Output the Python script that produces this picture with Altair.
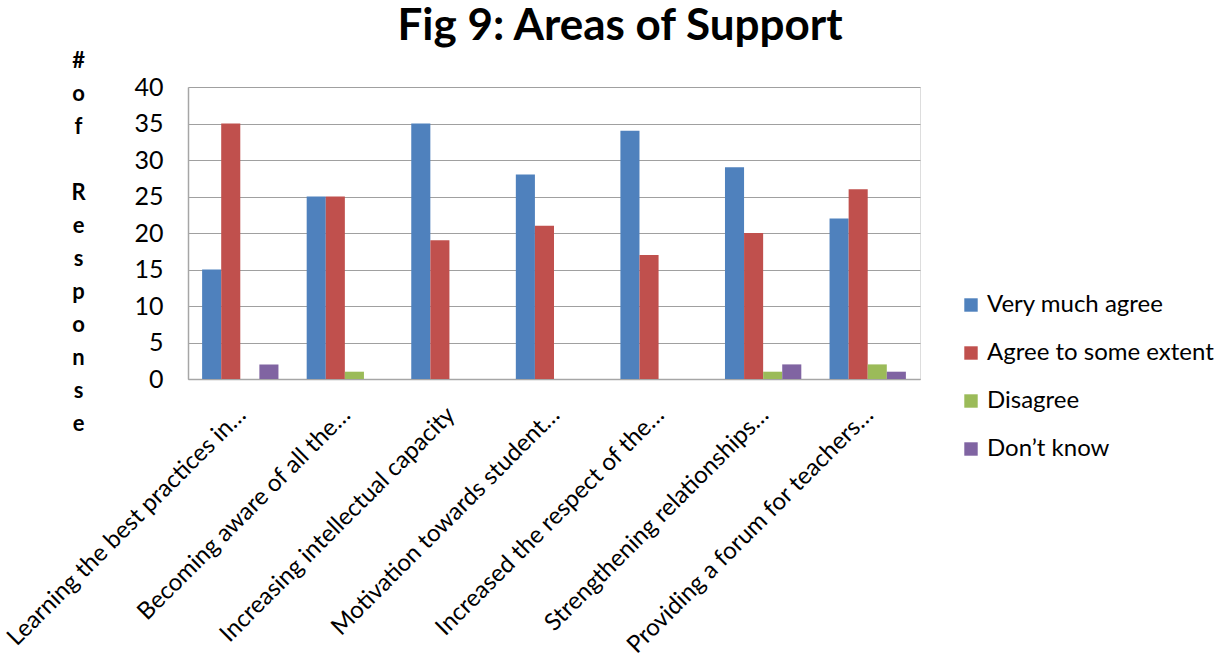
import altair as alt
import pandas as pd

# Survey categories (labels are truncated as they appear on the axis)
categories = [
    "Learning the best practices in…",
    "Becoming aware of all the…",
    "Increasing intellectual capacity",
    "Motivation towards student…",
    "Increased the respect of the…",
    "Strengthening relationships…",
    "Providing a forum for teachers…",
]
series = ["Very much agree", "Agree to some extent", "Disagree", "Don’t know"]
colors = ["#4F81BD", "#C0504D", "#9BBB59", "#8064A2"]

very_much_agree = [15, 25, 35, 28, 34, 29, 22]
agree_some_extent = [35, 25, 19, 21, 17, 20, 26]
disagree = [0, 1, 0, 0, 0, 1, 2]
dont_know = [2, 0, 0, 0, 0, 2, 1]

values = [very_much_agree, agree_some_extent, disagree, dont_know]
rows = []
for s, vals in zip(series, values):
    for c, v in zip(categories, vals):
        rows.append({"Category": c, "Series": s, "Responses": v})
df = pd.DataFrame(rows)

# vertical, one-letter-per-line axis title (zero-width space keeps the gap line)
y_title = ["#", "o", "f", "\u200b", "R", "e", "s", "p", "o", "n", "s", "e"]

FONT = "Lato"

chart = (
    alt.Chart(df)
    .mark_bar()
    .encode(
        x=alt.X(
            "Category:N",
            sort=categories,
            scale=alt.Scale(paddingInner=0.27, paddingOuter=0.135),
            axis=alt.Axis(
                title=None,
                labelAngle=-45,
                labelAlign="right",
                labelBaseline="middle",
                labelFontSize=24,
                labelFont=FONT,
                labelColor="#000000",
                labelPadding=32,
                labelOffset=2,
                labelLimit=0,
                ticks=False,
                domainColor="#a6a6a6",
                domainWidth=1.5,
                grid=False,
            ),
        ),
        xOffset=alt.XOffset("Series:N", sort=series, scale=alt.Scale(paddingInner=0, paddingOuter=0)),
        y=alt.Y(
            "Responses:Q",
            scale=alt.Scale(domain=[0, 40]),
            axis=alt.Axis(
                values=[0, 5, 10, 15, 20, 25, 30, 35, 40],
                title=y_title,
                titleAngle=0,
                titleAlign="center",
                titleBaseline="middle",
                titleX=-110,
                titleY=-27,
                titleFontSize=22,
                titleFont=FONT,
                titleFontWeight="bold",
                titleLineHeight=33,
                titleColor="#000000",
                labelFontSize=25,
                labelFont=FONT,
                labelColor="#000000",
                labelPadding=25,
                ticks=False,
                domainColor="#a6a6a6",
                domainWidth=1.5,
                gridColor="#a0a0a0",
                gridWidth=1.2,
            ),
        ),
        color=alt.Color(
            "Series:N",
            sort=series,
            scale=alt.Scale(domain=series, range=colors),
            legend=alt.Legend(
                title=None,
                orient="none",
                legendX=771,
                legendY=206,
                symbolType="square",
                symbolSize=180,
                symbolStrokeWidth=0,
                labelFontSize=24,
                labelFont=FONT,
                labelColor="#000000",
                labelLimit=0,
                rowPadding=24,
                labelOffset=4,
            ),
        ),
    )
    .properties(
        width=732,
        height=292,
        title=alt.TitleParams(
            "Fig 9: Areas of Support",
            fontSize=44,
            font=FONT,
            fontWeight="bold",
            color="#000000",
            anchor="middle",
            dx=66,
            offset=0,
        ),
        autosize=alt.AutoSizeParams(type="none"),
        padding={"left": 188, "top": 87, "right": 305, "bottom": 281},
    )
    .configure_view(stroke=None)
    .configure(background="#ffffff")
)

chart.save("out.html", embed_options={"renderer": "svg", "actions": False})
